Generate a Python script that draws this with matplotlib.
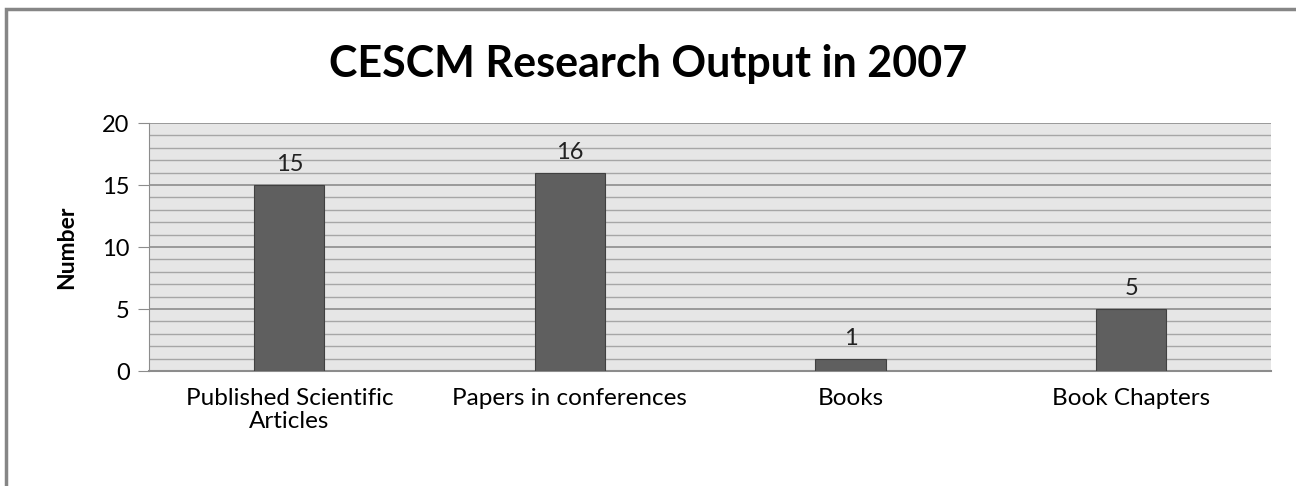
import matplotlib
matplotlib.use('Agg')
import matplotlib.pyplot as plt
from matplotlib.patches import Rectangle
from matplotlib.ticker import MultipleLocator

# chart data
categories = ['Published Scientific\nArticles', 'Papers in conferences', 'Books', 'Book Chapters']
values = [15, 16, 1, 5]

plt.rcParams['font.family'] = ['Lato', 'DejaVu Sans']

fig = plt.figure(figsize=(12.96, 4.86), dpi=100)
ax = fig.add_axes([0.115, 0.2366, 0.866, 0.5103])

# plot area background and grid
ax.set_facecolor('#e6e6e6')
ax.yaxis.set_major_locator(MultipleLocator(5))
ax.yaxis.set_minor_locator(MultipleLocator(1))
ax.grid(axis='y', which='major', color='#8c8c8c', linewidth=1.2, zorder=0)
ax.grid(axis='y', which='minor', color='#a6a6a6', linewidth=1.0, zorder=0)
ax.set_axisbelow(True)

x = range(len(categories))
bars = ax.bar(x, values, width=0.25, color='#5f5f5f', edgecolor='#404040', linewidth=0.8, zorder=3)

for xi, v in zip(x, values):
    ax.text(xi, v + 0.8, str(v), ha='center', va='bottom', fontsize=17, color='#222222')

ax.set_xlim(-0.5, 3.5)
ax.set_ylim(0, 20)
ax.set_xticks(list(x))
ax.set_xticklabels(categories, fontsize=17.5, linespacing=1.15)
ax.tick_params(axis='x', length=0, pad=12)
ax.tick_params(axis='y', which='major', length=8, color='#8c8c8c', labelsize=17, pad=6)
ax.tick_params(axis='y', which='minor', length=0)

for side in ['top', 'right']:
    ax.spines[side].set_visible(False)
ax.spines['left'].set_color('#8c8c8c')
ax.spines['bottom'].set_color('#8c8c8c')
ax.spines['bottom'].set_linewidth(1.5)

ax.set_ylabel('Number', fontsize=16.5, fontweight='bold', labelpad=18)
fig.text(0.5, 0.868, 'CESCM Research Output in 2007', ha='center', va='center',
         fontsize=31, fontweight='bold')

# outer chart border (right and bottom edges fall outside the picture)
fig.patches.append(Rectangle((6 / 1296, -0.1), 1.2, 1.1 - 9 / 486, transform=fig.transFigure,
                             fill=False, edgecolor='#868686', linewidth=2.5))

fig.savefig('out.png', dpi=100)
